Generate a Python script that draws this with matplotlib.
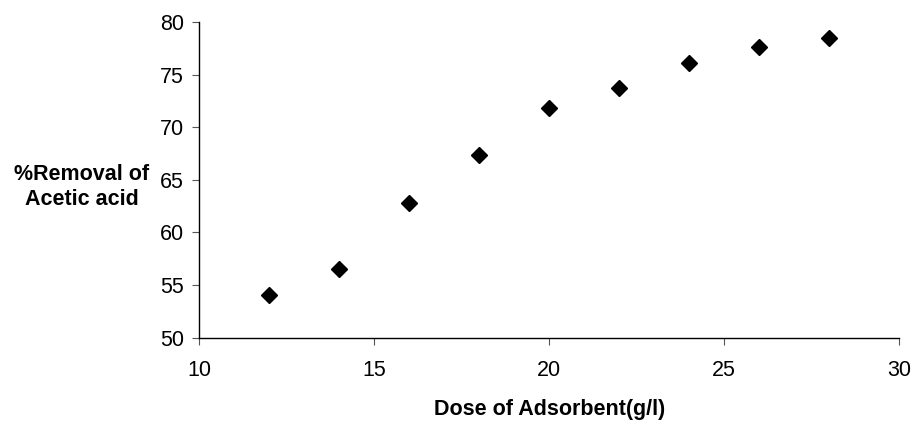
import matplotlib
matplotlib.use("Agg")
import matplotlib.pyplot as plt

dose = [12, 14, 16, 18, 20, 22, 24, 26, 28]
removal = [54.1, 56.5, 62.8, 67.4, 71.8, 73.7, 76.1, 77.6, 78.5]
xticks = [10, 15, 20, 25, 30]
yticks = [50, 55, 60, 65, 70, 75, 80]

plt.rcParams['font.family'] = ['Liberation Sans', 'DejaVu Sans']

fig = plt.figure(figsize=(9.15, 4.23), dpi=100)
ax = fig.add_axes([0.2175, 0.2017, 0.765, 0.7463])
ax.plot(dose, removal, linestyle='none', marker='D', ms=8.5, color='black')

ax.set_xlim(10, 30)
ax.set_ylim(50, 80)
ax.set_xticks(xticks)
ax.set_yticks(yticks)
ax.tick_params(direction='out', length=5, width=0.8, labelsize=15.5, color='#555555')
ax.tick_params(axis='x', pad=11)
ax.tick_params(axis='y', pad=6)
for s in ['top', 'right']:
    ax.spines[s].set_visible(False)
for s in ['left', 'bottom']:
    ax.spines[s].set_linewidth(1.0)
    ax.spines[s].set_color('black')

fig.text(82/915, 1 - 187/423, '%Removal of\nAcetic acid', fontsize=15.5, fontweight='bold',
         ha='center', va='center', linespacing=1.25)
fig.text(550/915, 1 - 409/423, 'Dose of Adsorbent(g/l)', fontsize=15.5, fontweight='bold',
         ha='center', va='center')

fig.savefig('out.png', dpi=100)
